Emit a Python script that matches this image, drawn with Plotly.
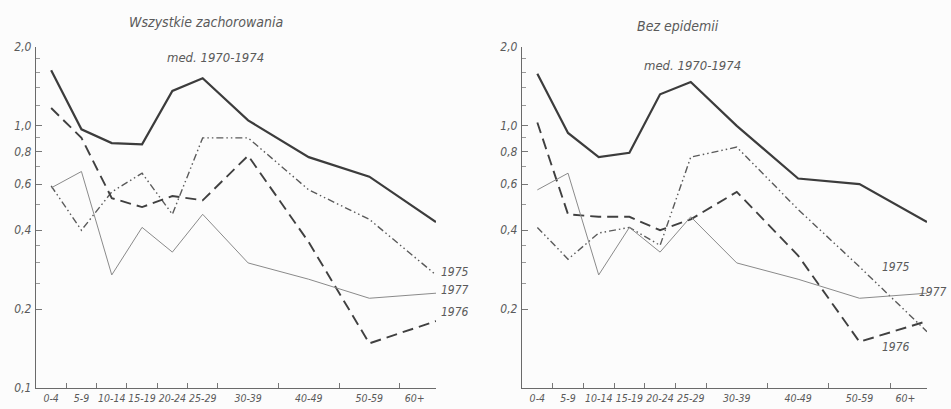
import plotly.graph_objects as go

age_groups = ["0-4", "5-9", "10-14", "15-19", "20-24", "25-29", "30-39", "40-49", "50-59", "60+"]
age_mid = [2.5, 7.5, 12.5, 17.5, 22.5, 27.5, 35, 45, 55, 66]
label_pos = [2.5, 7.5, 12.5, 17.5, 22.5, 27.5, 35, 45, 55, 62.5]
group_bounds = [5, 10, 15, 20, 25, 30, 40, 50, 60]

y_ticks = [2.0, 1.0, 0.8, 0.6, 0.4, 0.2, 0.1]
y_ticktext = ["2,0", "1,0", "0,8", "0,6", "0,4", "0,2", "0,1"]
y_minor = [1.8, 1.6, 1.4, 1.2, 0.9, 0.7, 0.5, 0.35, 0.3, 0.25]

# Wszystkie zachorowania
all_med = [1.63, 0.97, 0.86, 0.85, 1.36, 1.52, 1.05, 0.76, 0.64, 0.43]
all_1975 = [0.59, 0.40, 0.56, 0.66, 0.46, 0.90, 0.90, 0.57, 0.44, 0.27]
all_1976 = [1.17, 0.90, 0.53, 0.49, 0.54, 0.52, 0.77, 0.36, 0.148, 0.18]
all_1977 = [0.58, 0.67, 0.27, 0.41, 0.33, 0.46, 0.30, 0.26, 0.22, 0.23]

# Bez epidemii
bez_med = [1.58, 0.94, 0.76, 0.79, 1.32, 1.47, 1.00, 0.63, 0.60, 0.43]
bez_1975 = [0.41, 0.31, 0.39, 0.41, 0.35, 0.76, 0.83, 0.48, 0.29, 0.164]
bez_1976 = [1.03, 0.46, 0.45, 0.45, 0.40, 0.44, 0.56, 0.32, 0.15, 0.18]
bez_1977 = [0.57, 0.66, 0.27, 0.41, 0.33, 0.45, 0.30, 0.26, 0.22, 0.23]

W, H = 951, 409
FONT = "DejaVu Sans Condensed, Liberation Sans, sans-serif"
TXT = "#5a5a5a"

def px(x):
    return x / W

def py(y):
    return 1 - y / H

styles = {
    "med": dict(color="#3c3c3c", width=2.2, dash="solid"),
    "1975": dict(color="#5a5a5a", width=1.4, dash="7px,3px,1.5px,3px,1.5px,3px"),
    "1976": dict(color="#404040", width=1.9, dash="11px,6px"),
    "1977": dict(color="#8a8a8a", width=1.0, dash="solid"),
}

fig = go.Figure()
panels = [
    ("x", "y", [("med", all_med), ("1975", all_1975), ("1976", all_1976), ("1977", all_1977)]),
    ("x2", "y2", [("med", bez_med), ("1975", bez_1975), ("1976", bez_1976), ("1977", bez_1977)]),
]
for xa, ya, series in panels:
    for name, vals in series:
        fig.add_trace(go.Scatter(x=age_mid, y=vals, mode="lines", name=name,
                                 line=styles[name], xaxis=xa, yaxis=ya,
                                 showlegend=False, hoverinfo="skip"))

x_common = dict(range=[0, 66], showline=True, linecolor="#6a6a6a", linewidth=1.2,
                showgrid=False, zeroline=False, tickmode="array", tickvals=label_pos,
                ticktext=age_groups, ticks="", ticklabelstandoff=0, tickangle=0,
                automargin=False,
                tickfont=dict(family=FONT, size=10.5, color=TXT, style="italic"),
                minor=dict(tickmode="array", tickvals=group_bounds, ticks="inside",
                           ticklen=5, tickcolor="#777", tickwidth=1))
y_common = dict(type="log", range=[-1, 0.30103], showline=True, linecolor="#6a6a6a",
                linewidth=1.2, showgrid=False, zeroline=False, ticks="inside",
                ticklen=6, tickcolor="#777", tickwidth=1, ticklabelstandoff=1,
                automargin=False,
                tickfont=dict(family=FONT, size=12, color=TXT, style="italic"),
                minor=dict(tickmode="array", tickvals=y_minor, ticks="inside",
                           ticklen=4, tickcolor="#999", tickwidth=1))

fig.update_layout(
    width=W, height=H, margin=dict(l=0, r=0, t=0, b=0),
    paper_bgcolor="#fcfcfc", plot_bgcolor="#fcfcfc",
    xaxis=dict(domain=[px(36), px(436)], anchor="y", **x_common),
    yaxis=dict(domain=[py(388), py(47)], anchor="x", tickmode="array",
               tickvals=y_ticks, ticktext=y_ticktext, **y_common),
    xaxis2=dict(domain=[px(522), px(927)], anchor="y2", **x_common),
    yaxis2=dict(domain=[py(388), py(47)], anchor="x2", tickmode="array",
                tickvals=y_ticks[:-1], ticktext=y_ticktext[:-1], **y_common),
)

def note(text, x, y, size=12, xanchor="center"):
    fig.add_annotation(text=text, x=px(x), y=py(y), xref="paper", yref="paper",
                       showarrow=False, xanchor=xanchor, yanchor="middle",
                       font=dict(family=FONT, size=size, color=TXT, style="italic"))

note("Wszystkie zachorowania", 206, 22, 14)
note("med. 1970-1974", 215, 57, 13)
note("Bez epidemii", 678, 26, 14)
note("med. 1970-1974", 692, 65, 13)

note("1975", 439, 272, 12, "left")
note("1977", 439, 290, 12, "left")
note("1976", 439, 312, 12, "left")
note("1975", 880, 267, 12, "left")
note("1977", 949, 292, 12, "right")
note("1976", 880, 347, 12, "left")

fig.write_html("out.html")
